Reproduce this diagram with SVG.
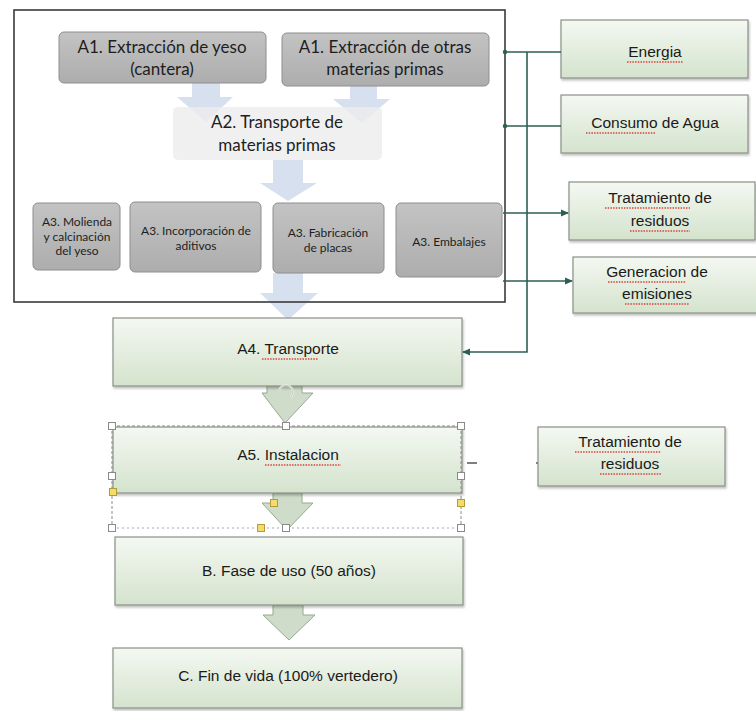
<svg xmlns="http://www.w3.org/2000/svg" width="756" height="711" viewBox="0 0 756 711">
<defs>
<linearGradient id="gGray" x1="0" y1="0" x2="0" y2="1"><stop offset="0" stop-color="#c3c3c3"/><stop offset="1" stop-color="#adadad"/></linearGradient>
<linearGradient id="gGreen" x1="0" y1="0" x2="0" y2="1"><stop offset="0" stop-color="#f4f8f2"/><stop offset="1" stop-color="#d4e3cd"/></linearGradient>
<filter id="sh" x="-5%" y="-5%" width="112%" height="120%"><feDropShadow dx="1" dy="2" stdDeviation="1.2" flood-color="#000" flood-opacity="0.25"/></filter>
<marker id="ah" markerWidth="8" markerHeight="8" refX="7" refY="4" orient="auto" markerUnits="userSpaceOnUse"><path d="M0,0.5 L8,4 L0,7.5 Z" fill="#2c5f55"/></marker>
<style>
.gray{fill:url(#gGray);stroke:#8e8e8e;stroke-width:1}
.green{fill:url(#gGreen);stroke:#8a9086;stroke-width:1.2;filter:url(#sh)}
.blue{fill:#d7e0ee}
.garrow{fill:#cfdcc9;stroke:#97a893;stroke-width:1}
.tc{font-family:Lato,"Open Sans",sans-serif;fill:#1e1e1e;text-anchor:middle}
.tl{font-size:17px}
.ts{font-size:12px}
.ta{font-family:"Liberation Sans",Arial,sans-serif;font-size:15.5px;fill:#1a1a1a;text-anchor:middle}
.conn{stroke:#2c5f55;stroke-width:1.6;fill:none}
.sq{stroke:#d8443a;stroke-width:1.3;fill:none;stroke-dasharray:1.5 1.2}
.hw{fill:#fff;stroke:#8a8a8a;stroke-width:1}
.hy{fill:#f3dc6a;stroke:#b39a3a;stroke-width:1}
</style>
</defs>
<rect width="756" height="711" fill="#fff"/>

<!-- blue arrows (behind boxes) -->
<g id="blue-arrows">
<path class="blue" d="M192,83 L220,83 L220,97 L233,97 L206,122 L177,97 L192,97 Z"/>
<path class="blue" d="M350,86 L377,86 L377,99 L390,99 L362,123 L333,99 L350,99 Z"/>
<path class="blue" d="M273,160 L303,160 L303,183 L317,183 L288,201 L260,183 L273,183 Z"/>
<path class="blue" d="M273,273 L303,273 L303,293 L318,293 L288,320 L260,293 L273,293 Z"/>
</g>

<!-- frame -->
<rect id="frame" x="14" y="10" width="491" height="292" fill="none" stroke="#3a3a3a" stroke-width="1.6"/>

<g id="a1-yeso">
<rect class="gray" x="59" y="32" width="207" height="51" rx="5"/>
<text class="tc tl" x="162" y="53">A1. Extracción de yeso</text>
<text class="tc tl" x="162" y="75">(cantera)</text>
</g>
<g id="a1-otras">
<rect class="gray" x="282" y="33" width="207" height="53" rx="5"/>
<text class="tc tl" x="385" y="53">A1. Extracción de otras</text>
<text class="tc tl" x="385" y="75">materias primas</text>
</g>
<g id="a2">
<rect x="173" y="107" width="209" height="53" rx="5" fill="#ececec" opacity="0.8"/>
<text class="tc tl" x="277" y="128">A2. Transporte de</text>
<text class="tc tl" x="277" y="151">materias primas</text>
</g>
<g id="a3-molienda">
<rect class="gray" x="33" y="203" width="87" height="67" rx="5"/>
<text class="tc ts" x="77" y="226">A3. Molienda</text>
<text class="tc ts" x="77" y="240.5">y calcinación</text>
<text class="tc ts" x="77" y="255">del yeso</text>
</g>
<g id="a3-aditivos">
<rect class="gray" x="130" y="202" width="131" height="70" rx="5"/>
<text class="tc ts" x="196" y="235">A3. Incorporación de</text>
<text class="tc ts" x="196" y="250">aditivos</text>
</g>
<g id="a3-placas">
<rect class="gray" x="273" y="203" width="111" height="70" rx="5"/>
<text class="tc ts" x="328" y="237">A3. Fabricación</text>
<text class="tc ts" x="328" y="252">de placas</text>
</g>
<g id="a3-embalajes">
<rect class="gray" x="396" y="203" width="106" height="74" rx="5"/>
<text class="tc ts" x="449" y="246">A3. Embalajes</text>
</g>

<!-- green arrows -->
<g id="green-arrows">
<path class="garrow" d="M267,386 L302,386 L302,393 L313,393 L285,423 L262,393 L267,393 Z"/>
<path class="garrow" d="M273,493 L302,493 L302,503 L313,503 L287,530 L262,503 L273,503 Z"/>
<path class="garrow" d="M273,605 L303,605 L303,615 L315,615 L289,640 L263,615 L273,615 Z"/>
</g>

<g id="a4">
<rect class="green" x="113" y="318" width="349" height="68"/>
<text class="ta" x="288" y="354">A4. Transporte</text>
<path class="sq" d="M262,359 L318,359"/>
</g>
<g id="a5">
<rect class="green" x="113" y="427" width="349" height="66"/>
<text class="ta" x="288" y="460">A5. Instalacion</text>
<path class="sq" d="M265,465 L341,465"/>
</g>
<g id="b">
<rect class="green" x="115" y="537" width="348" height="68"/>
<text class="ta" x="289" y="576">B. Fase de uso (50 años)</text>
</g>
<g id="c">
<rect class="green" x="113" y="648" width="349" height="60"/>
<text class="ta" x="288" y="681">C. Fin de vida (100% vertedero)</text>
</g>

<!-- selection decorations around A5 -->
<g id="selection">
<path d="M112,426 L461,426 M112,426 L112,528 M461,426 L461,528" stroke="#8a8a8a" stroke-width="1" stroke-dasharray="3 2" fill="none"/>
<path d="M112,528 L461,528" stroke="#a8a0b8" stroke-width="1.2" stroke-dasharray="2 3" fill="none"/>
<path d="M279,391 A7,7 0 1 1 291,397" stroke="#f4f4f4" stroke-width="2" fill="none" opacity="0.9"/>
<path d="M279,391 A7,7 0 1 1 291,397" stroke="#b0b8ad" stroke-width="0.7" fill="none"/>
<rect class="hw" x="108.5" y="422.5" width="7" height="7"/>
<rect class="hw" x="282.5" y="422.5" width="7" height="7"/>
<rect class="hw" x="457.5" y="422.5" width="7" height="7"/>
<rect class="hw" x="108.5" y="472.5" width="7" height="7"/>
<rect class="hw" x="457.5" y="472.5" width="7" height="7"/>
<rect class="hw" x="108.5" y="524.5" width="7" height="7"/>
<rect class="hw" x="282.5" y="524.5" width="7" height="7"/>
<rect class="hw" x="457.5" y="524.5" width="7" height="7"/>
<rect class="hy" x="109.5" y="488.5" width="7" height="7"/>
<rect class="hy" x="270.5" y="499.5" width="7" height="7"/>
<rect class="hy" x="457.5" y="499.5" width="7" height="7"/>
<rect class="hy" x="257.5" y="524.5" width="7" height="7"/>
<path d="M467,463 L477,463" stroke="#555" stroke-width="1.5"/>
<path d="M536,463 L539,463" stroke="#555" stroke-width="1.5"/>
</g>

<!-- right boxes -->
<g id="energia">
<rect class="green" x="561" y="20" width="187" height="58"/>
<text class="ta" x="655" y="57">Energia</text>
<path class="sq" d="M627,62 L683,62"/>
</g>
<g id="agua">
<rect class="green" x="561" y="95" width="187" height="58"/>
<text class="ta" x="655" y="128">Consumo de Agua</text>
<path class="sq" d="M586,133 L655,133"/>
</g>
<g id="residuos1">
<rect class="green" x="569" y="182" width="186" height="58"/>
<text class="ta" x="660" y="203">Tratamiento de</text>
<text class="ta" x="660" y="226">residuos</text>
<path class="sq" d="M605,208 L690,208 M630,231 L690,231"/>
</g>
<g id="emisiones">
<rect class="green" x="573" y="257" width="185" height="56"/>
<text class="ta" x="657" y="277">Generacion de</text>
<text class="ta" x="657" y="299">emisiones</text>
<path class="sq" d="M608,282 L686,282 M625,304 L689,304"/>
</g>
<g id="residuos2">
<rect class="green" x="538" y="427" width="187" height="59"/>
<text class="ta" x="630" y="447">Tratamiento de</text>
<text class="ta" x="630" y="469">residuos</text>
<path class="sq" d="M575,452 L661,452 M600,474 L661,474"/>
</g>

<!-- connectors -->
<g id="connectors">
<path class="conn" d="M505,52 L561,52"/>
<path class="conn" d="M505,126 L561,126"/>
<circle cx="505" cy="52" r="2.2" fill="#2c5f55"/>
<circle cx="505" cy="126" r="2.2" fill="#2c5f55"/>
<path class="conn" d="M527,52 L527,352 L463,352" marker-end="url(#ah)"/>
<path class="conn" d="M503,213 L568,213" marker-end="url(#ah)"/>
<path class="conn" d="M503,281 L572,281" marker-end="url(#ah)"/>
</g>
</svg>
